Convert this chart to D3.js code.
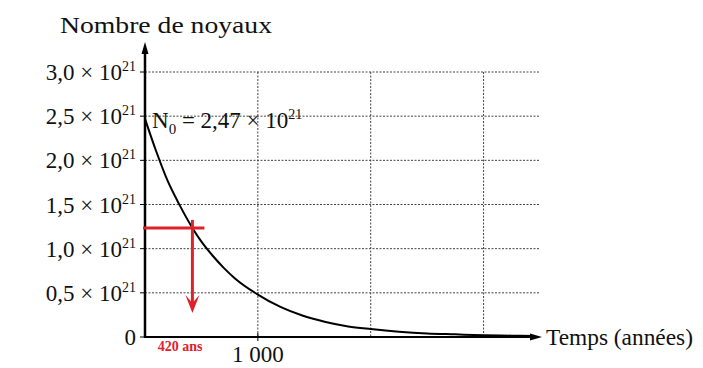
<!DOCTYPE html>
<html>
<head>
<meta charset="utf-8">
<script src="https://cdn.jsdelivr.net/npm/d3@7"></script>
<style>
  body { margin: 0; background: #fff; }
  text { font-family: "Liberation Serif", "DejaVu Serif", serif; fill: #111; }
</style>
</head>
<body>
<script>
var width = 703, height = 368;

// nuclei count (x 10^21)
var years = [0, 100, 200, 300, 420, 500, 600, 700, 800, 1000, 1200, 1400, 1600, 1800, 2000, 2250, 2500, 2750, 3000, 3250, 3450];
var nuclei = [2.47, 2.10, 1.77, 1.51, 1.235, 1.08, 0.92, 0.78, 0.66, 0.48, 0.34, 0.24, 0.17, 0.12, 0.09, 0.06, 0.04, 0.03, 0.02, 0.015, 0.01];

var yTicks = [0, 0.5, 1.0, 1.5, 2.0, 2.5, 3.0];
var yTickLabels = ["0", "0,5", "1,0", "1,5", "2,0", "2,5", "3,0"];
var xGrid = [1000, 2000, 3000];
var xTickLabels = ["1 000"];

var halfLife = 420, halfN = 1.235;

var svg = d3.select("body")
    .append("svg")
    .attr("width", width)
    .attr("height", height);

var x = d3.scaleLinear().domain([0, 3500]).range([145, 540]);
var y = d3.scaleLinear().domain([0, 3]).range([337, 72]);

// dotted grid
var grid = svg.append("g")
    .style("stroke", "#444")
    .style("stroke-width", 1)
    .style("stroke-dasharray", "2,1.5");

grid.selectAll("line.h")
    .data(yTicks.slice(1))
    .enter().append("line")
    .attr("x1", x(0)).attr("x2", x(3500))
    .attr("y1", function (d) { return y(d); })
    .attr("y2", function (d) { return y(d); });

grid.selectAll("line.v")
    .data(xGrid)
    .enter().append("line")
    .attr("x1", function (d) { return x(d); })
    .attr("x2", function (d) { return x(d); })
    .attr("y1", y(3)).attr("y2", y(0));

// axes
svg.append("line")
    .attr("x1", x(0)).attr("x2", x(0))
    .attr("y1", y(0) + 1).attr("y2", 48)
    .style("stroke", "#000").style("stroke-width", 2.5);

svg.append("path")
    .attr("d", "M" + (x(0) - 3.5) + ",54 L" + x(0) + ",42 L" + (x(0) + 3.5) + ",54 Z")
    .style("fill", "#000");

svg.append("line")
    .attr("x1", x(0)).attr("x2", x(3500) - 6)
    .attr("y1", y(0)).attr("y2", y(0))
    .style("stroke", "#000").style("stroke-width", 2);

svg.append("path")
    .attr("d", "M" + (x(3500) - 10) + "," + (y(0) - 3.5) + " L" + (x(3500) + 2) + "," + y(0) +
        " L" + (x(3500) - 10) + "," + (y(0) + 3.5) + " Z")
    .style("fill", "#000");

// y ticks
svg.selectAll("line.yt")
    .data(yTicks)
    .enter().append("line")
    .attr("x1", x(0) - 5).attr("x2", x(0))
    .attr("y1", function (d) { return y(d); })
    .attr("y2", function (d) { return y(d); })
    .style("stroke", "#000");

svg.append("line")
    .attr("x1", x(1000)).attr("x2", x(1000))
    .attr("y1", y(0) - 4).attr("y2", y(0) + 4)
    .style("stroke", "#000");

var yl = svg.selectAll("text.ylab")
    .data(yTicks)
    .enter().append("text")
    .attr("class", "ylab")
    .attr("x", 136)
    .attr("y", function (d) { return y(d) + 8; })
    .attr("text-anchor", "end")
    .style("font-size", "23px");

yl.each(function (d, i) {
    var t = d3.select(this);
    if (d === 0) {
        t.text(yTickLabels[i]);
        return;
    }
    t.append("tspan").text(yTickLabels[i] + " \u00d7 10");
    t.append("tspan").attr("dy", -9).style("font-size", "14px").text("21");
});

// x tick label
svg.append("text")
    .attr("x", x(1000))
    .attr("y", 362)
    .attr("text-anchor", "middle")
    .style("font-size", "23px")
    .text(xTickLabels[0]);

// axis titles
svg.append("text")
    .attr("x", 60).attr("y", 33)
    .style("font-size", "24px")
    .attr("textLength", 212)
    .attr("lengthAdjust", "spacingAndGlyphs")
    .text("Nombre de noyaux");

svg.append("text")
    .attr("x", 546).attr("y", 345)
    .style("font-size", "23px")
    .attr("textLength", 147)
    .attr("lengthAdjust", "spacingAndGlyphs")
    .text("Temps (années)");

// decay curve
var line = d3.line()
    .x(function (d, i) { return x(years[i]); })
    .y(function (d) { return y(d); })
    .curve(d3.curveMonotoneX);

svg.append("path")
    .datum(nuclei)
    .attr("d", line)
    .style("fill", "none")
    .style("stroke", "#000")
    .style("stroke-width", 2);

// N0 label
var n0 = svg.append("text")
    .attr("x", 152).attr("y", 128)
    .style("font-size", "23px");
n0.append("tspan").text("N");
n0.append("tspan").attr("dy", 6).style("font-size", "15px").text("0");
n0.append("tspan").attr("dy", -6).text(" = 2,47 \u00d7 10");
n0.append("tspan").attr("dy", -9).style("font-size", "14px").text("21");

// half-life construction in red
var red = "#e0202a";
svg.append("line")
    .attr("x1", x(0) - 2).attr("x2", x(halfLife) + 12)
    .attr("y1", y(halfN)).attr("y2", y(halfN))
    .style("stroke", red).style("stroke-width", 3);

svg.append("line")
    .attr("x1", x(halfLife)).attr("x2", x(halfLife))
    .attr("y1", y(halfN) - 8).attr("y2", y(0) - 30)
    .style("stroke", red).style("stroke-width", 3);

svg.append("path")
    .attr("d", "M" + (x(halfLife) - 7) + "," + (y(0) - 42) +
        " L" + x(halfLife) + "," + (y(0) - 24) +
        " L" + (x(halfLife) + 7) + "," + (y(0) - 42) +
        " L" + x(halfLife) + "," + (y(0) - 34) + " Z")
    .style("fill", red);

svg.append("text")
    .attr("x", 180).attr("y", 351)
    .attr("text-anchor", "middle")
    .style("font-size", "14px")
    .style("font-weight", "bold")
    .style("fill", red)
    .text(halfLife + " ans");
</script>
</body>
</html>
